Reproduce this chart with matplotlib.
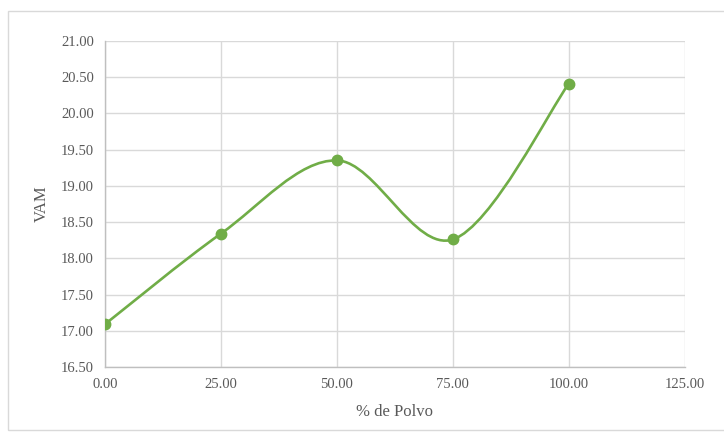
import matplotlib.pyplot as plt
from matplotlib.path import Path
from matplotlib.patches import PathPatch, Rectangle

# % de Polvo vs VAM
polvo = [0, 25, 50, 75, 100]
vam = [17.09, 18.34, 19.35, 18.26, 20.41]

green = "#70AD47"
grey_txt = "#595959"

plt.rcParams["font.family"] = ["Liberation Serif", "DejaVu Serif"]

fig = plt.figure(figsize=(7.24, 4.32), dpi=100)
ax = fig.add_axes([0.145, 0.1505, 0.801, 0.755])

# Excel-like smoothed line: cubic bezier through the points
pts = list(zip(polvo, vam))
verts = [pts[0]]
codes = [Path.MOVETO]
n = len(pts)
for i in range(n - 1):
    p0 = pts[i - 1] if i > 0 else pts[i]
    p1 = pts[i]
    p2 = pts[i + 1]
    p3 = pts[i + 2] if i + 2 < n else pts[i + 1]
    c1 = (p1[0] + (p2[0] - p0[0]) / 6, p1[1] + (p2[1] - p0[1]) / 6)
    c2 = (p2[0] - (p3[0] - p1[0]) / 6, p2[1] - (p3[1] - p1[1]) / 6)
    verts += [c1, c2, p2]
    codes += [Path.CURVE4] * 3
ax.add_patch(PathPatch(Path(verts, codes), facecolor="none", edgecolor=green,
                       lw=1.9, zorder=3, capstyle="round"))
ax.plot(polvo, vam, "o", color=green, markersize=7.5, zorder=4)

ax.set_xlim(0, 125)
ax.set_ylim(16.5, 21.0)
ax.set_xticks([0, 25, 50, 75, 100, 125])
ax.set_yticks([16.5 + 0.5 * k for k in range(10)])
ax.xaxis.set_major_formatter(lambda v, p: f"{v:.2f}")
ax.yaxis.set_major_formatter(lambda v, p: f"{v:.2f}")
ax.grid(True, color="#D9D9D9", lw=1.0)
ax.set_axisbelow(True)
for s in ["top", "right"]:
    ax.spines[s].set_visible(False)
for s in ["left", "bottom"]:
    ax.spines[s].set_color("#BFBFBF")
    ax.spines[s].set_linewidth(1.0)
ax.tick_params(length=0, labelsize=10.5, labelcolor=grey_txt, pad=8)
ax.set_xlabel("% de Polvo", fontsize=12, color=grey_txt, labelpad=9)
ax.set_ylabel("VAM", fontsize=12, color=grey_txt, labelpad=8)

fig.patches.append(Rectangle((8 / 724, 2 / 432), 1.2, 419 / 432, transform=fig.transFigure,
                             fill=False, edgecolor="#D9D9D9", lw=1.0))

fig.savefig("out.png", dpi=100)
